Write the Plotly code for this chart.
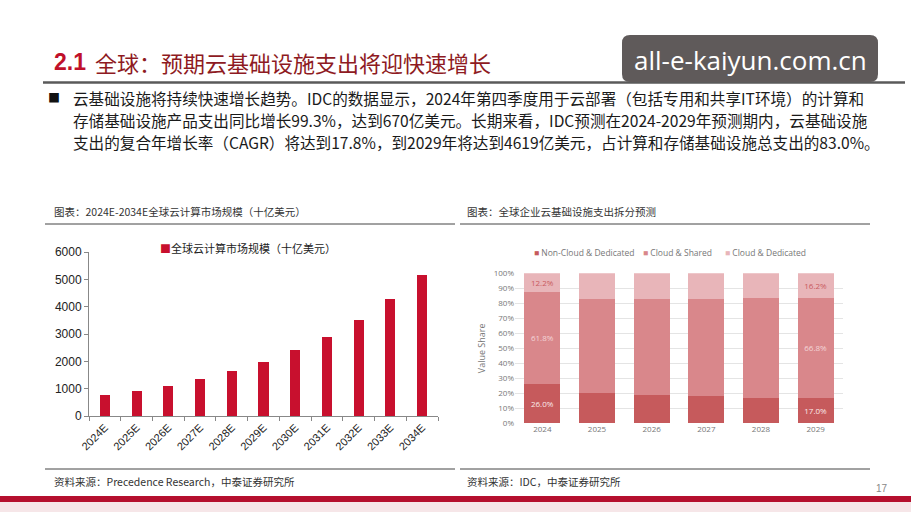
import plotly.graph_objects as go

W, H = 911, 512
def px(x): return x / W
def py(y): return 1 - y / H

# ---------------- data ----------------
years_left = ["2024E", "2025E", "2026E", "2027E", "2028E", "2029E",
              "2030E", "2031E", "2032E", "2033E", "2034E"]
market_size = [752, 913, 1107, 1343, 1629, 1976, 2398, 2908, 3528, 4280, 5151]
left_series = "全球云计算市场规模（十亿美元）"

years_right = ["2024", "2025", "2026", "2027", "2028", "2029"]
non_cloud_dedicated = [0.260, 0.200, 0.189, 0.180, 0.171, 0.170]
cloud_shared = [0.618, 0.629, 0.638, 0.647, 0.662, 0.668]
cloud_dedicated = [0.122, 0.171, 0.173, 0.173, 0.167, 0.162]
right_series = ["Non-Cloud & Dedicated", "Cloud & Shared", "Cloud & Dedicated"]
yticks_right = [0, 0.1, 0.2, 0.3, 0.4, 0.5, 0.6, 0.7, 0.8, 0.9, 1.0]

def edge_labels(vals):
    return [f"{v*100:.1f}%" if i in (0, len(vals) - 1) else "" for i, v in enumerate(vals)]

CJK = "Noto Sans CJK SC"
SANS = "Liberation Sans"
LEFT_COLOR = "#c8102e"
colors_r = ["#c65a5c", "#d9878b", "#e8b5b9"]
txtcol = ["#fbeaea", "#f4d6d8", "#c85a60"]

fig = go.Figure()

# ---------------- left chart ----------------
fig.add_trace(go.Bar(
    x=years_left, y=market_size, name=left_series,
    marker=dict(color=LEFT_COLOR, line=dict(width=0)),
    xaxis="x", yaxis="y", showlegend=False,
))

# ---------------- right chart ----------------
for name, vals, c, tc in zip(right_series, [non_cloud_dedicated, cloud_shared, cloud_dedicated], colors_r, txtcol):
    fig.add_trace(go.Bar(
        x=years_right, y=vals, name=name, width=0.66,
        marker=dict(color=c, line=dict(width=0)),
        text=edge_labels(vals), textposition="inside", insidetextanchor="middle",
        textfont=dict(size=8, color=tc, family="Open Sans"),
        textangle=0, constraintext="none",
        xaxis="x2", yaxis="y2", showlegend=False,
    ))

fig.update_layout(
    width=W, height=H, margin=dict(l=0, r=0, t=0, b=0, autoexpand=False),
    paper_bgcolor="white", plot_bgcolor="white",
    barmode="stack", bargap=0.68, showlegend=False,
    xaxis=dict(domain=[px(89), px(438)], showline=True, linecolor="#888", linewidth=1,
               ticks="outside", ticklen=4, tickcolor="#888", tickson="boundaries",
               tickangle=-45, tickfont=dict(family=SANS, size=11, color="#222"),
               showgrid=False, automargin=False),
    yaxis=dict(domain=[py(416), py(252)], range=[0, 6000], dtick=1000,
               showline=True, linecolor="#888", linewidth=1,
               ticks="outside", ticklen=4, tickcolor="#888",
               tickfont=dict(family=SANS, size=12, color="#222"), showgrid=False,
               zeroline=False, automargin=False),
    xaxis2=dict(domain=[px(515), px(843)], anchor="y2", showline=False, automargin=False,
                tickfont=dict(family="Open Sans", size=8, color="#777"), showgrid=False),
    yaxis2=dict(domain=[py(423.3), py(273.3)], anchor="x2", range=[0, 1.0], automargin=False,
                tickvals=yticks_right, tickformat=".0%",
                tickfont=dict(family="Open Sans", size=8, color="#777"),
                showgrid=True, gridcolor="#e4e4e4", gridwidth=1, zeroline=False,
                title=dict(text="Value Share", font=dict(family="Open Sans", size=9, color="#777"), standoff=6)),
)

shapes = []
annotations = []
def ann(x, y, text, size, color, family=CJK, xanchor="left"):
    annotations.append(dict(x=px(x), y=py(y), xref="paper", yref="paper", xanchor=xanchor,
                            yanchor="middle", text=text, showarrow=False,
                            font=dict(family=family, size=size, color=color)))

# legends (drawn as text keyed to the trace colours)
ann(158, 248, f"<span style='color:{LEFT_COLOR}'>■</span>{left_series}", 11, "#222")
leg_x = [532, 641, 723]
for name, c, lx in zip(right_series, colors_r, leg_x):
    ann(lx, 252, f"<span style='color:{c}'>■</span> {name}", 8.5, "#777", family="Open Sans")

# title
ann(52, 62, "<b>2.1</b>", 23, "#c0102a", family=SANS)
ann(93, 62, "全球：预期云基础设施支出将迎快速增长", 22, "#8e1a22")
shapes.append(dict(type="line", xref="paper", yref="paper", x0=px(43), x1=px(905), y0=py(82.5), y1=py(82.5),
                   line=dict(color="#5a5a5a", width=2.5)))

# watermark box
x0, x1, y0, y1, r = 622, 878, 35, 82, 8
path = (f"M {px(x0+r)},{py(y0)} L {px(x1-r)},{py(y0)} Q {px(x1)},{py(y0)} {px(x1)},{py(y0+r)} "
        f"L {px(x1)},{py(y1-r)} Q {px(x1)},{py(y1)} {px(x1-r)},{py(y1)} L {px(x0+r)},{py(y1)} "
        f"Q {px(x0)},{py(y1)} {px(x0)},{py(y1-r)} L {px(x0)},{py(y0+r)} Q {px(x0)},{py(y0)} {px(x0+r)},{py(y0)} Z")
shapes.append(dict(type="path", xref="paper", yref="paper", path=path, fillcolor="#5f5a5a", line=dict(width=0)))
ann(750, 60, "all-e-kaiyun.com.cn", 26, "#ffffff", family="Open Sans", xanchor="center")

# paragraph
para = [
    "云基础设施将持续快速增长趋势。IDC的数据显示，2024年第四季度用于云部署（包括专用和共享IT环境）的计算和",
    "存储基础设施产品支出同比增长99.3%，达到670亿美元。长期来看，IDC预测在2024-2029年预测期内，云基础设施",
    "支出的复合年增长率（CAGR）将达到17.8%，到2029年将达到4619亿美元，占计算和存储基础设施总支出的83.0%。",
]
ann(46, 97, "■", 12, "#111")
for i, line in enumerate(para):
    ann(71, 98 + 22 * i, line, 15.6, "#1a1a1a")

# captions
ann(52, 211, "图表：2024E-2034E全球云计算市场规模（十亿美元）", 10.5, "#333")
ann(465, 211, "图表：全球企业云基础设施支出拆分预测", 10.5, "#333")
for (a, b) in [(45, 455), (460, 870)]:
    shapes.append(dict(type="line", xref="paper", yref="paper", x0=px(a), x1=px(b), y0=py(224), y1=py(224),
                       line=dict(color="#444", width=1)))
    shapes.append(dict(type="line", xref="paper", yref="paper", x0=px(a), x1=px(b), y0=py(469), y1=py(469),
                       line=dict(color="#444", width=1)))

# footer
ann(52, 481, "资料来源：Precedence Research，中泰证券研究所", 10.5, "#333")
ann(465, 481, "资料来源：IDC，中泰证券研究所", 10.5, "#333")
ann(882, 488, "17", 10, "#888", family=SANS, xanchor="center")
shapes.append(dict(type="rect", xref="paper", yref="paper", x0=0, x1=1, y0=py(502), y1=py(496),
                   fillcolor="#b5102e", line=dict(width=0)))
shapes.append(dict(type="rect", xref="paper", yref="paper", x0=0, x1=1, y0=py(512), y1=py(502),
                   fillcolor="#f6e6e8", line=dict(width=0)))

fig.update_layout(shapes=shapes, annotations=annotations)
fig.write_html("out.html")
